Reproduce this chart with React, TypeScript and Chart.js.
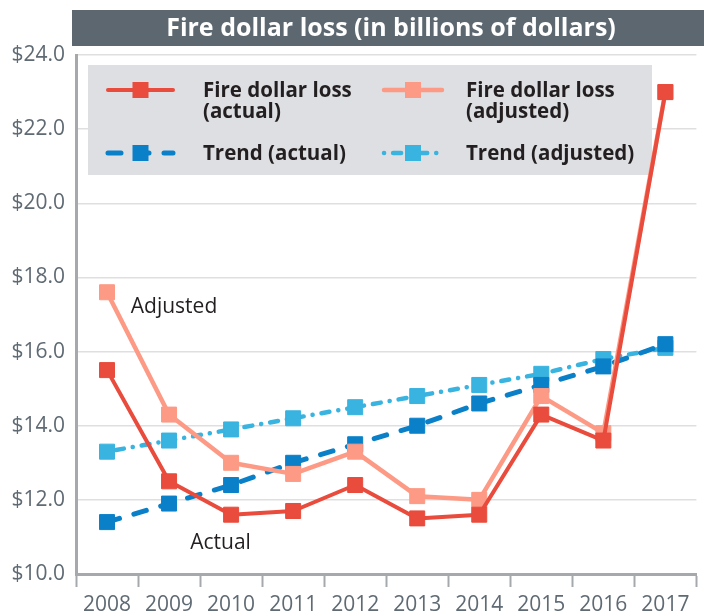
import React, { useEffect, useRef } from "react";
import { Chart, registerables } from "chart.js";

Chart.register(...registerables);

// ---------- data ----------
const years = ["2008", "2009", "2010", "2011", "2012", "2013", "2014", "2015", "2016", "2017"];
const lossActual = [15.5, 12.5, 11.6, 11.7, 12.4, 11.5, 11.6, 14.3, 13.6, 23.0];
const lossAdjusted = [17.6, 14.3, 13.0, 12.7, 13.3, 12.1, 12.0, 14.8, 13.8, 23.0];
const trendActual = [11.4, 11.9, 12.4, 13.0, 13.5, 14.0, 14.6, 15.1, 15.6, 16.2];
const trendAdjusted = [13.3, 13.6, 13.9, 14.2, 14.5, 14.8, 15.1, 15.4, 15.8, 16.1];
const yMin = 10;
const yMax = 24;
const yStep = 2;
const titleText = "Fire dollar loss (in billions of dollars)";
const seriesNames = [
  ["Fire dollar loss", "(actual)"],
  ["Fire dollar loss", "(adjusted)"],
  ["Trend (actual)"],
  ["Trend (adjusted)"],
];
const annotationTexts = ["Adjusted", "Actual"];
const annotationAt = [
  { x: 1.08, y: 17.2 },
  { x: 1.83, y: 10.84 },
];

// ---------- styles ----------
const VIEW_W = 704;
const CANVAS_W = 708;
const CANVAS_H = 616;
const RED = "#e94b3c";
const SALMON = "#fd9a85";
const BLUE = "#0a80c9";
const LIGHT_BLUE = "#39b3e0";
const TITLE_BG = "#5c6770";
const LEGEND_BG = "#dddfe2";
const TEXT_DARK = "#231f20";
const AXIS_TEXT = "#5f6a73";
const AXIS_LINE = "#a6a9ac";
const GRID = "#dfdfdf";
const FONT = '"Open Sans", "Noto Sans", sans-serif';

const DASH_BLUE = [13, 15];
const DASH_LIGHT = [0.1, 9, 8, 9];

function drawSquare(ctx: CanvasRenderingContext2D, x: number, y: number, color: string) {
  ctx.fillStyle = color;
  ctx.fillRect(x - 8, y - 8, 16, 16);
}

const titlePlugin = {
  id: "titleBar",
  beforeDraw(chart: any) {
    const { ctx, chartArea } = chart;
    ctx.save();
    const x0 = chartArea.left - 4;
    ctx.fillStyle = TITLE_BG;
    ctx.fillRect(x0, 10, VIEW_W - x0, 36);
    ctx.fillStyle = "#ffffff";
    ctx.font = `bold 25px ${FONT}`;
    ctx.textAlign = "center";
    ctx.textBaseline = "middle";
    ctx.fillText(titleText, (x0 + VIEW_W) / 2 + 3, 29, 476);
    ctx.restore();
  },
};

const legendPlugin = {
  id: "boxLegend",
  beforeDatasetsDraw(chart: any) {
    const { ctx, chartArea } = chart;
    const bx = chartArea.left + 12;
    const by = chartArea.top + 10;
    ctx.save();
    ctx.fillStyle = LEGEND_BG;
    ctx.fillRect(bx, by, 564, 110);

    const cols = [
      { mx1: bx + 20, mx2: bx + 85, tx: bx + 115 },
      { mx1: bx + 296, mx2: bx + 354, tx: bx + 378 },
    ];
    const rows = [by + 25, by + 88];
    chart.data.datasets.forEach((ds: any, i: number) => {
      const col = cols[i % 2];
      const row = rows[Math.floor(i / 2)];
      ctx.save();
      ctx.strokeStyle = ds.borderColor;
      ctx.lineWidth = ds.borderWidth;
      ctx.lineCap = ds.borderCapStyle || "round";
      ctx.setLineDash(ds.borderDash || []);
      ctx.beginPath();
      ctx.moveTo(col.mx1, row);
      ctx.lineTo(col.mx2, row);
      ctx.stroke();
      ctx.restore();
      drawSquare(ctx, (col.mx1 + col.mx2) / 2, row, ds.pointBackgroundColor);
      ctx.fillStyle = TEXT_DARK;
      ctx.font = `bold 20.5px ${FONT}`;
      ctx.textAlign = "left";
      ctx.textBaseline = "middle";
      const lines = seriesNames[i];
      if (lines.length === 1) {
        ctx.fillText(lines[0], col.tx, row + 1);
      } else {
        ctx.fillText(lines[0], col.tx, row + 1);
        ctx.fillText(lines[1], col.tx, row + 22);
      }
    });
    ctx.restore();
  },
};

const annotationPlugin = {
  id: "textNotes",
  afterDatasetsDraw(chart: any) {
    const { ctx, scales } = chart;
    ctx.save();
    ctx.fillStyle = TEXT_DARK;
    ctx.font = `21px ${FONT}`;
    ctx.textAlign = "center";
    ctx.textBaseline = "middle";
    annotationTexts.forEach((t, i) => {
      const p = annotationAt[i];
      ctx.fillText(t, scales.x.getPixelForValue(p.x), scales.y.getPixelForValue(p.y));
    });
    ctx.restore();
  },
};

function makeDataset(label: string, data: number[], color: string, width: number, dash: number[] | undefined) {
  return {
    label,
    data,
    borderColor: color,
    backgroundColor: color,
    pointBackgroundColor: color,
    pointBorderColor: color,
    borderWidth: width,
    borderDash: dash,
    borderCapStyle: "round" as const,
    borderJoinStyle: "round" as const,
    pointStyle: "rect" as const,
    pointRadius: 10.6,
    pointBorderWidth: 1,
    pointHoverRadius: 10.6,
    tension: 0,
    fill: false,
  };
}

export default function App() {
  const ref = useRef<HTMLCanvasElement | null>(null);

  useEffect(() => {
    if (!ref.current) return;
    const chart = new Chart(ref.current, {
      type: "line",
      data: {
        labels: years,
        datasets: [
          makeDataset("Fire dollar loss (actual)", lossActual, RED, 4, undefined),
          makeDataset("Fire dollar loss (adjusted)", lossAdjusted, SALMON, 4.5, undefined),
          makeDataset("Trend (actual)", trendActual, BLUE, 5, DASH_BLUE),
          makeDataset("Trend (adjusted)", trendAdjusted, LIGHT_BLUE, 4.5, DASH_LIGHT),
        ],
      },
      options: {
        responsive: false,
        animation: false,
        devicePixelRatio: 1,
        layout: { padding: { top: 55, right: 0, left: 0, bottom: 0 } },
        plugins: {
          legend: { display: false },
          title: { display: false },
          tooltip: { enabled: false },
        },
        scales: {
          x: {
            type: "category",
            offset: true,
            grid: {
              display: true,
              drawOnChartArea: false,
              drawTicks: true,
              tickLength: 13,
              tickWidth: 2,
              tickColor: AXIS_LINE,
              offset: true,
            },
            border: { display: true, color: AXIS_LINE, width: 3 },
            ticks: {
              color: AXIS_TEXT,
              font: { family: FONT, size: 21 },
              padding: 5,
              maxRotation: 0,
              autoSkip: false,
            },
            afterFit(scale: any) {
              scale.height = 42;
            },
          },
          y: {
            min: yMin,
            max: yMax,
            grid: { color: GRID, lineWidth: 1.5, drawTicks: false },
            border: { display: true, color: AXIS_LINE, width: 3 },
            ticks: {
              stepSize: yStep,
              color: AXIS_TEXT,
              font: { family: FONT, size: 21 },
              padding: 11,
              callback: (v: any) => "$" + Number(v).toFixed(1),
            },
            afterFit(scale: any) {
              scale.width = 76;
            },
          },
        },
      },
      plugins: [titlePlugin, legendPlugin, annotationPlugin],
    });
    return () => chart.destroy();
  }, []);

  return (
    <div
      style={{
        position: "fixed",
        left: 0,
        top: 0,
        width: VIEW_W,
        height: CANVAS_H,
        overflow: "hidden",
        background: "#ffffff",
      }}
    >
      <canvas ref={ref} width={CANVAS_W} height={CANVAS_H} style={{ display: "block" }} />
    </div>
  );
}
